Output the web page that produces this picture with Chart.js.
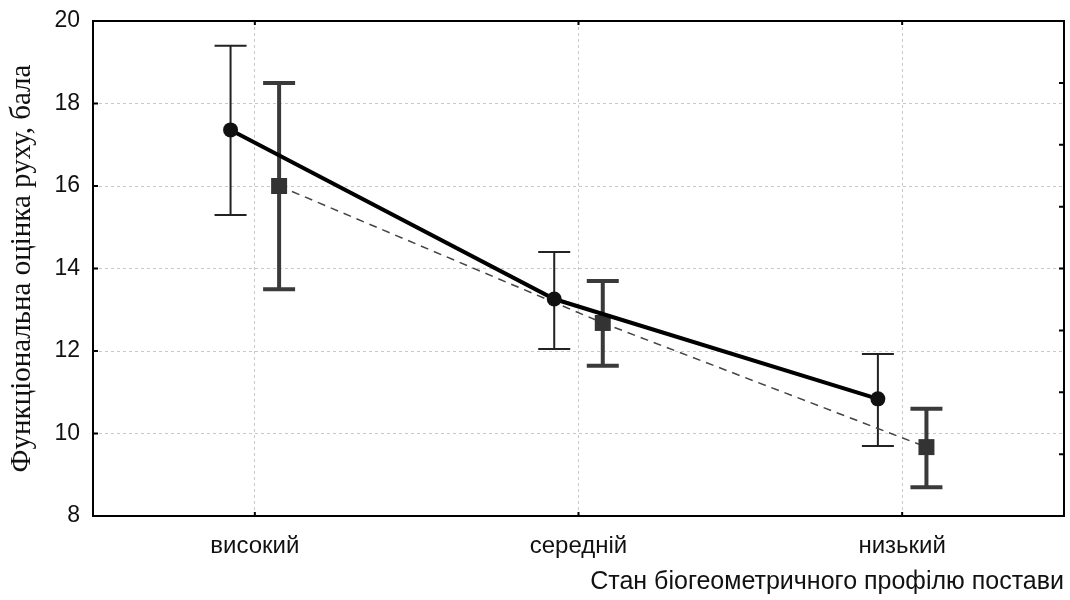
<!DOCTYPE html>
<html>
<head>
<meta charset="utf-8">
<script src="https://cdn.jsdelivr.net/npm/chart.js@4"></script>
<style>
  html, body { margin: 0; padding: 0; background: #fff; }
  #wrap { width: 1070px; height: 600px; }
</style>
</head>
<body>
<div id="wrap"><canvas id="chart" width="1070" height="600"></canvas></div>
<script>
// Categories and values
const categories = ['високий', 'середній', 'низький'];
const meanA = [17.36, 13.26, 10.84];
const lowA  = [15.3, 12.05, 9.7];
const highA = [19.4, 14.4, 11.93];
const meanB = [16.0, 12.68, 9.67];
const lowB  = [13.5, 11.64, 8.7];
const highB = [18.5, 13.7, 10.6];
const yTicks = [8, 10, 12, 14, 16, 18, 20];
const rightTicks = [9.5, 11, 12.5, 14, 15.5, 17, 18.5];
const offsetA = -0.075;
const offsetB = 0.075;

const pointsA = meanA.map((v, i) => ({ x: i + offsetA, y: v }));
const pointsB = meanB.map((v, i) => ({ x: i + offsetB, y: v }));

// Error bars + frame and inner ticks
const extras = {
    id: 'extras',
    beforeDatasetsDraw(chart) {
        const ctx = chart.ctx;
        const xs = chart.scales.x, ys = chart.scales.y;
        const drawBars = (lows, highs, off, color, width) => {
            ctx.save();
            ctx.strokeStyle = color;
            ctx.lineWidth = width;
            lows.forEach((lo, i) => {
                const px = xs.getPixelForValue(i + off);
                const top = ys.getPixelForValue(highs[i]);
                const bot = ys.getPixelForValue(lo);
                ctx.beginPath();
                ctx.moveTo(px, top); ctx.lineTo(px, bot);
                ctx.moveTo(px - 16, top); ctx.lineTo(px + 16, top);
                ctx.moveTo(px - 16, bot); ctx.lineTo(px + 16, bot);
                ctx.stroke();
            });
            ctx.restore();
        };
        drawBars(lowA, highA, offsetA, '#222', 2);
        drawBars(lowB, highB, offsetB, '#3a3a3a', 4);
    },
    afterDraw(chart) {
        const ctx = chart.ctx;
        const a = chart.chartArea;
        const xs = chart.scales.x, ys = chart.scales.y;
        ctx.save();
        ctx.strokeStyle = '#000';
        ctx.lineWidth = 2;
        ctx.beginPath();
        // inner tick marks
        yTicks.forEach(v => {
            const py = ys.getPixelForValue(v);
            ctx.moveTo(a.left, py); ctx.lineTo(a.left + 5, py);
        });
        rightTicks.forEach(v => {
            const py = ys.getPixelForValue(v);
            ctx.moveTo(a.right, py); ctx.lineTo(a.right - 5, py);
        });
        categories.forEach((c, i) => {
            const px = xs.getPixelForValue(i);
            ctx.moveTo(px, a.top); ctx.lineTo(px, a.top + 4);
            ctx.moveTo(px, a.bottom); ctx.lineTo(px, a.bottom - 4);
        });
        ctx.stroke();
        ctx.strokeRect(a.left, a.top, a.right - a.left, a.bottom - a.top);
        ctx.restore();
    }
};

const ctx = document.getElementById('chart').getContext('2d');
new Chart(ctx, {
    type: 'scatter',
    data: {
        datasets: [
            {
                data: pointsA,
                showLine: true,
                borderColor: '#000',
                borderWidth: 4,
                pointStyle: 'circle',
                pointRadius: 7.5,
                pointBackgroundColor: '#111',
                pointBorderWidth: 0
            },
            {
                data: pointsB,
                showLine: true,
                borderColor: '#444',
                borderWidth: 1.5,
                borderDash: [8, 6],
                pointStyle: 'rect',
                pointRadius: 11.3,
                pointBackgroundColor: '#333',
                pointBorderWidth: 0
            }
        ]
    },
    options: {
        responsive: false,
        animation: false,
        layout: { autoPadding: false, padding: { top: 21, right: 6, left: 0, bottom: 0 } },
        plugins: {
            legend: { display: false },
            tooltip: { enabled: false }
        },
        scales: {
            x: {
                type: 'linear',
                min: -0.5,
                max: 2.5,
                afterBuildTicks: s => { s.ticks = categories.map((c, i) => ({ value: i })); },
                afterFit: s => { s.height = 84; s.paddingLeft = 0; s.paddingRight = 0; },
                grid: { color: '#c8c8c8', lineWidth: 1, drawTicks: false },
                border: { display: false, dash: [3, 3] },
                ticks: {
                    padding: 16,
                    color: '#111',
                    font: { family: 'Liberation Sans', size: 24 },
                    callback: v => categories[v] || ''
                },
                title: {
                    display: true,
                    text: 'Стан біогеометричного профілю постави',
                    align: 'end',
                    color: '#111',
                    font: { family: 'Liberation Sans', size: 25 },
                    padding: { top: 4, bottom: 3 }
                }
            },
            y: {
                min: 8,
                max: 20,
                afterBuildTicks: s => { s.ticks = yTicks.map(v => ({ value: v })); },
                afterFit: s => { s.width = 93; s.paddingTop = 0; s.paddingBottom = 0; },
                grid: { color: '#c8c8c8', lineWidth: 1, drawTicks: false },
                border: { display: false, dash: [3, 3] },
                ticks: {
                    padding: 13,
                    color: '#111',
                    font: { family: 'Liberation Sans', size: 23 }
                },
                title: {
                    display: true,
                    text: 'Функціональна оцінка руху, бала',
                    color: '#111',
                    font: { family: 'Liberation Serif', size: 29 },
                    padding: { top: 5, bottom: 0 }
                }
            }
        }
    },
    plugins: [extras]
});
</script>
</body>
</html>
